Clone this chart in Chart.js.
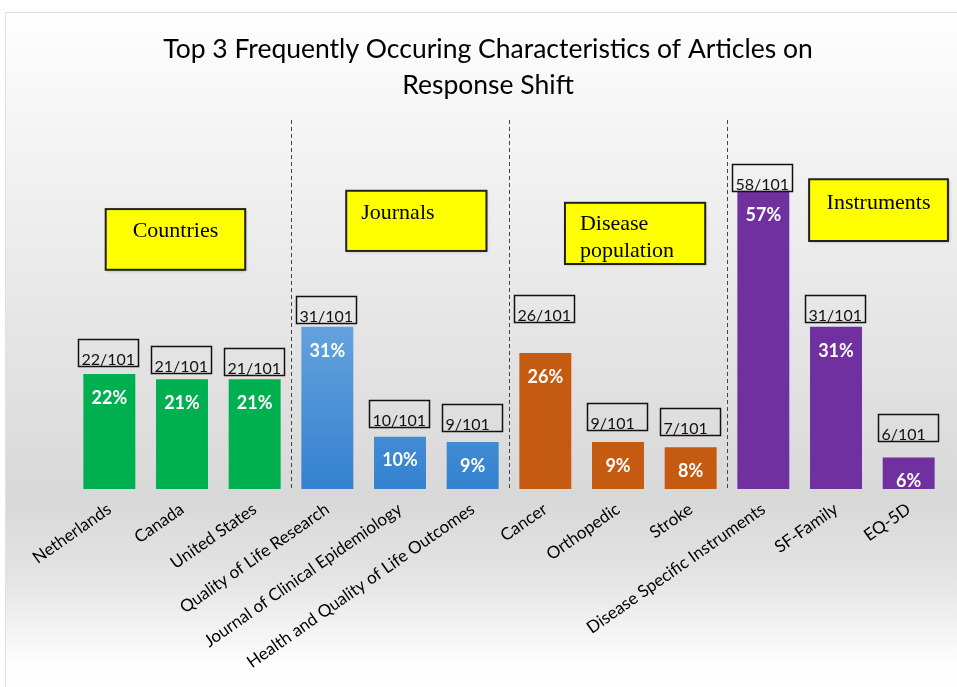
<!DOCTYPE html>
<html>
<head>
<meta charset="utf-8">
<script src="https://cdn.jsdelivr.net/npm/chart.js@4/dist/chart.umd.min.js"></script>
<style>
  html, body { margin: 0; padding: 0; background: #fff; }
  #wrap { width: 957px; height: 687px; position: relative; }
</style>
</head>
<body>
<div id="wrap"><canvas id="grafico"></canvas></div>
<script>
// Datos
const categorias = ["Netherlands", "Canada", "United States",
  "Quality of Life Research", "Journal of Clinical Epidemiology", "Health and Quality of Life Outcomes",
  "Cancer", "Orthopedic", "Stroke",
  "Disease Specific Instruments", "SF-Family", "EQ-5D"];
const porcentajes = [22, 21, 21, 31, 10, 9, 26, 9, 8, 57, 31, 6]; // %
const conteos = ["22/101", "21/101", "21/101", "31/101", "10/101", "9/101",
  "26/101", "9/101", "7/101", "58/101", "31/101", "6/101"];
const grupos = ["Countries", "Journals", "Disease population", "Instruments"];
const grupoDe = [0, 0, 0, 1, 1, 1, 2, 2, 2, 3, 3, 3];

const colores = ['#00b050', null, '#c55a11', '#7030a0'];
const separaciones = [2.5, 5.5, 8.5]; // entre grupos (índice de categoría)

// Recuadros amarillos: x en índice de categoría, y en % (solo maquetación)
const cajas = [
  { lineas: ["Countries"], x0: -0.05, x1: 1.87, y0: 53.5, y1: 41.9, alinear: 'center', dy: 22 },
  { lineas: ["Journals"], x0: 3.26, x1: 5.19, y0: 57, y1: 45.5, alinear: 'left', dy: 22 },
  { lineas: ["Disease", "population"], x0: 6.27, x1: 8.2, y0: 54.7, y1: 43, alinear: 'left', dy: 21 },
  { lineas: ["Instruments"], x0: 9.63, x1: 11.54, y0: 59.2, y1: 47.4, alinear: 'center', dy: 24 }
];
// hueco entre recuadro de conteo y barra (px)
const huecoConteo = [8, 6, 4, 4, 10, 11, 31, 12, 12, 0, 5, 17];

const fuente = "Lato, 'Open Sans', sans-serif";

function xIdx(sx, v) {
  const p0 = sx.getPixelForValue(0), p1 = sx.getPixelForValue(1);
  return p0 + v * (p1 - p0);
}

const fondo = {
  id: 'fondo',
  beforeDraw(chart) {
    const c = chart.ctx, w = chart.width, h = chart.height;
    c.save();
    c.fillStyle = '#fff';
    c.fillRect(0, 0, w, h);
    const g = c.createLinearGradient(0, 12, 0, h);
    g.addColorStop(0, '#ffffff');
    g.addColorStop(0.12, '#f7f7f7');
    g.addColorStop(0.45, '#e6e6e6');
    g.addColorStop(0.72, '#d8d8d8');
    g.addColorStop(0.84, '#e4e4e4');
    g.addColorStop(0.97, '#fefefe');
    c.fillStyle = g;
    c.fillRect(5, 12, w - 5, h - 12);
    c.strokeStyle = '#e0e0e0';
    c.lineWidth = 1;
    c.beginPath();
    c.moveTo(5.5, h);
    c.lineTo(5.5, 12.5);
    c.lineTo(w, 12.5);
    c.stroke();
    c.restore();
  }
};

const extras = {
  id: 'extras',
  beforeDatasetsDraw(chart) {
    const c = chart.ctx, sx = chart.scales.x, a = chart.chartArea;
    c.save();
    c.strokeStyle = '#444';
    c.lineWidth = 1;
    c.setLineDash([4, 3]);
    separaciones.forEach(s => {
      const x = Math.round(xIdx(sx, s)) + 0.5;
      c.beginPath();
      c.moveTo(x, 120);
      c.lineTo(x, a.bottom);
      c.stroke();
    });
    c.restore();
  },
  afterDatasetsDraw(chart) {
    const c = chart.ctx, sx = chart.scales.x, sy = chart.scales.y;
    const meta = chart.getDatasetMeta(0);
    c.save();
    meta.data.forEach((bar, i) => {
      // porcentaje dentro de la barra
      c.fillStyle = '#fff';
      c.font = "bold 18px " + fuente;
      c.textAlign = 'center';
      c.textBaseline = 'middle';
      c.fillText(porcentajes[i] + '%', bar.x, bar.y + 24);
      // recuadro con el conteo
      const bw = 60, bh = 27;
      const bx = Math.round(bar.x - 31) + 0.5;
      const by = Math.round(bar.y - huecoConteo[i] - bh) + 0.5;
      c.strokeStyle = '#111';
      c.lineWidth = 1.5;
      c.strokeRect(bx, by, bw, bh);
      c.fillStyle = '#111';
      c.font = "16px " + fuente;
      c.textAlign = 'left';
      c.textBaseline = 'alphabetic';
      c.fillText(conteos[i], bx + 3, by + bh - 2);
    });
    // recuadros amarillos
    cajas.forEach(k => {
      const x0 = xIdx(sx, k.x0), x1 = xIdx(sx, k.x1);
      const y0 = sy.getPixelForValue(k.y0), y1 = sy.getPixelForValue(k.y1);
      c.shadowColor = 'rgba(0,0,0,0.35)';
      c.shadowBlur = 3;
      c.shadowOffsetX = 1;
      c.shadowOffsetY = 1;
      c.fillStyle = '#ffff00';
      c.fillRect(x0, y0, x1 - x0, y1 - y0);
      c.shadowColor = 'transparent';
      c.strokeStyle = '#222';
      c.lineWidth = 2;
      c.strokeRect(x0, y0, x1 - x0, y1 - y0);
      c.fillStyle = '#000';
      c.font = "22px 'Liberation Serif', 'Times New Roman', serif";
      c.textBaseline = 'middle';
      k.lineas.forEach((t, j) => {
        if (k.alinear === 'center') {
          c.textAlign = 'center';
          c.fillText(t, (x0 + x1) / 2, y0 + k.dy + j * 27);
        } else {
          c.textAlign = 'left';
          c.fillText(t, x0 + 15, y0 + k.dy + j * 27);
        }
      });
    });
    c.restore();
  }
};

function colorBarra(ctx) {
  const g = grupoDe[ctx.dataIndex];
  if (g !== 1) return colores[g];
  const area = ctx.chart.chartArea;
  if (!area) return '#4a90d9';
  const grad = ctx.chart.ctx.createLinearGradient(0, area.top + 150, 0, area.bottom);
  grad.addColorStop(0, '#64a2dd');
  grad.addColorStop(1, '#3381cf');
  return grad;
}

new Chart(document.getElementById('grafico').getContext('2d'), {
  type: 'bar',
  data: {
    labels: categorias,
    datasets: [{
      label: '%',
      data: porcentajes,
      backgroundColor: colorBarra,
      borderWidth: 0,
      categoryPercentage: 1,
      barPercentage: 0.715
    }]
  },
  options: {
    responsive: true,
    maintainAspectRatio: false,
    animation: false,
    layout: { padding: { left: 31, right: 12, top: 0, bottom: 0 } },
    plugins: {
      legend: { display: false },
      tooltip: { enabled: false },
      title: {
        display: true,
        text: ["Top 3 Frequently Occuring Characteristics of Articles on", "Response Shift"],
        color: '#000',
        font: { family: fuente, size: 26.5, weight: 'normal', lineHeight: 1.36 },
        padding: { top: 31, bottom: 72 }
      }
    },
    scales: {
      y: {
        min: 0, max: 60,
        grid: { display: false, drawTicks: false },
        border: { display: false },
        ticks: { display: false },
        afterFit(scale) { scale.width = 42; }
      },
      x: {
        grid: { display: false, drawTicks: false },
        border: { display: false },
        ticks: {
          color: '#000',
          font: { family: fuente, size: 17 },
          minRotation: 35,
          maxRotation: 35,
          padding: 10,
          autoSkip: false
        },
        afterFit(scale) { scale.height = 198; }
      }
    }
  },
  plugins: [fondo, extras]
});
</script>
</body>
</html>
